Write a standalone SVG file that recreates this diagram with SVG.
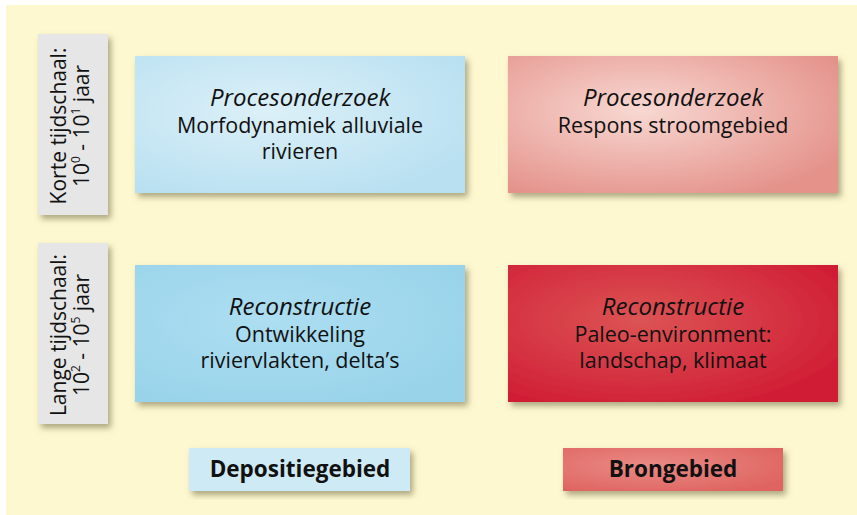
<svg xmlns="http://www.w3.org/2000/svg" width="857" height="515" viewBox="0 0 857 515">
<defs>
<style>
text{font-family:"Open Sans","Noto Sans","Liberation Sans",sans-serif;fill:#111;text-anchor:middle}
.t{font-size:21.5px}
.i{font-size:24px;font-style:italic}
.s{font-size:21px}
.b{font-size:22.5px;font-weight:bold}
.sup{font-size:12px}
</style>
<filter id="sh" x="-10%" y="-10%" width="125%" height="130%">
<feDropShadow dx="3" dy="4" stdDeviation="3" flood-color="#6b6440" flood-opacity="0.55"/>
</filter>
<radialGradient id="g1" cx="0.4" cy="0.4" r="0.7">
<stop offset="0" stop-color="#dcf0f8"/><stop offset="1" stop-color="#b8e0f1"/>
</radialGradient>
<radialGradient id="g2" cx="0.4" cy="0.4" r="0.7">
<stop offset="0" stop-color="#f8d8d2"/><stop offset="1" stop-color="#e4928a"/>
</radialGradient>
<radialGradient id="g3" cx="0.4" cy="0.4" r="0.7">
<stop offset="0" stop-color="#addef1"/><stop offset="1" stop-color="#98d3ea"/>
</radialGradient>
<radialGradient id="g4" cx="0.4" cy="0.4" r="0.7">
<stop offset="0" stop-color="#dc5454"/><stop offset="1" stop-color="#d01c35"/>
</radialGradient>
<radialGradient id="g5" cx="0.4" cy="0.4" r="0.7">
<stop offset="0" stop-color="#e98a84"/><stop offset="1" stop-color="#df6461"/>
</radialGradient>
</defs>
<rect x="0" y="0" width="857" height="515" fill="#ffffff"/>
<rect x="6" y="5" width="851" height="510" fill="#fef8d0"/>
<g id="label-kort">
<rect x="38" y="34" width="70" height="181" fill="#e6e6e6" filter="url(#sh)"/>
<text class="s" transform="translate(66,126) rotate(-90)">Korte tijdschaal:</text>
<text class="s" transform="translate(89,126) rotate(-90)">10<tspan class="sup" dy="-9">0</tspan><tspan dy="9"> - 10</tspan><tspan class="sup" dy="-9">1</tspan><tspan dy="9"> jaar</tspan></text>
</g>
<g id="label-lang">
<rect x="38" y="243" width="70" height="181" fill="#e6e6e6" filter="url(#sh)"/>
<text class="s" transform="translate(66,335) rotate(-90)">Lange tijdschaal:</text>
<text class="s" transform="translate(89,335) rotate(-90)">10<tspan class="sup" dy="-9">2</tspan><tspan dy="9"> - 10</tspan><tspan class="sup" dy="-9">5</tspan><tspan dy="9"> jaar</tspan></text>
</g>
<g id="box-proces-depositie">
<rect x="135" y="56" width="330" height="137" fill="url(#g1)" filter="url(#sh)"/>
<text class="i" x="300" y="106">Procesonderzoek</text>
<text class="t" x="300" y="133">Morfodynamiek alluviale</text>
<text class="t" x="300" y="159">rivieren</text>
</g>
<g id="box-proces-bron">
<rect x="508" y="56" width="330" height="137" fill="url(#g2)" filter="url(#sh)"/>
<text class="i" x="673" y="106">Procesonderzoek</text>
<text class="t" x="673" y="133">Respons stroomgebied</text>
</g>
<g id="box-recon-depositie">
<rect x="135" y="265" width="330" height="137" fill="url(#g3)" filter="url(#sh)"/>
<text class="i" x="300" y="315">Reconstructie</text>
<text class="t" x="300" y="342">Ontwikkeling</text>
<text class="t" x="300" y="368">riviervlakten, delta’s</text>
</g>
<g id="box-recon-bron">
<rect x="508" y="265" width="330" height="137" fill="url(#g4)" filter="url(#sh)"/>
<text class="i" x="673" y="315">Reconstructie</text>
<text class="t" x="673" y="342">Paleo-environment:</text>
<text class="t" x="673" y="368">landschap, klimaat</text>
</g>
<g id="label-depositie">
<rect x="189" y="448" width="221" height="43" fill="#cdeaf5" filter="url(#sh)"/>
<text class="b" x="300" y="477">Depositiegebied</text>
</g>
<g id="label-bron">
<rect x="563" y="448" width="220" height="43" fill="url(#g5)" filter="url(#sh)"/>
<text class="b" x="673" y="477">Brongebied</text>
</g>
<g id="connectors"/>
</svg>
